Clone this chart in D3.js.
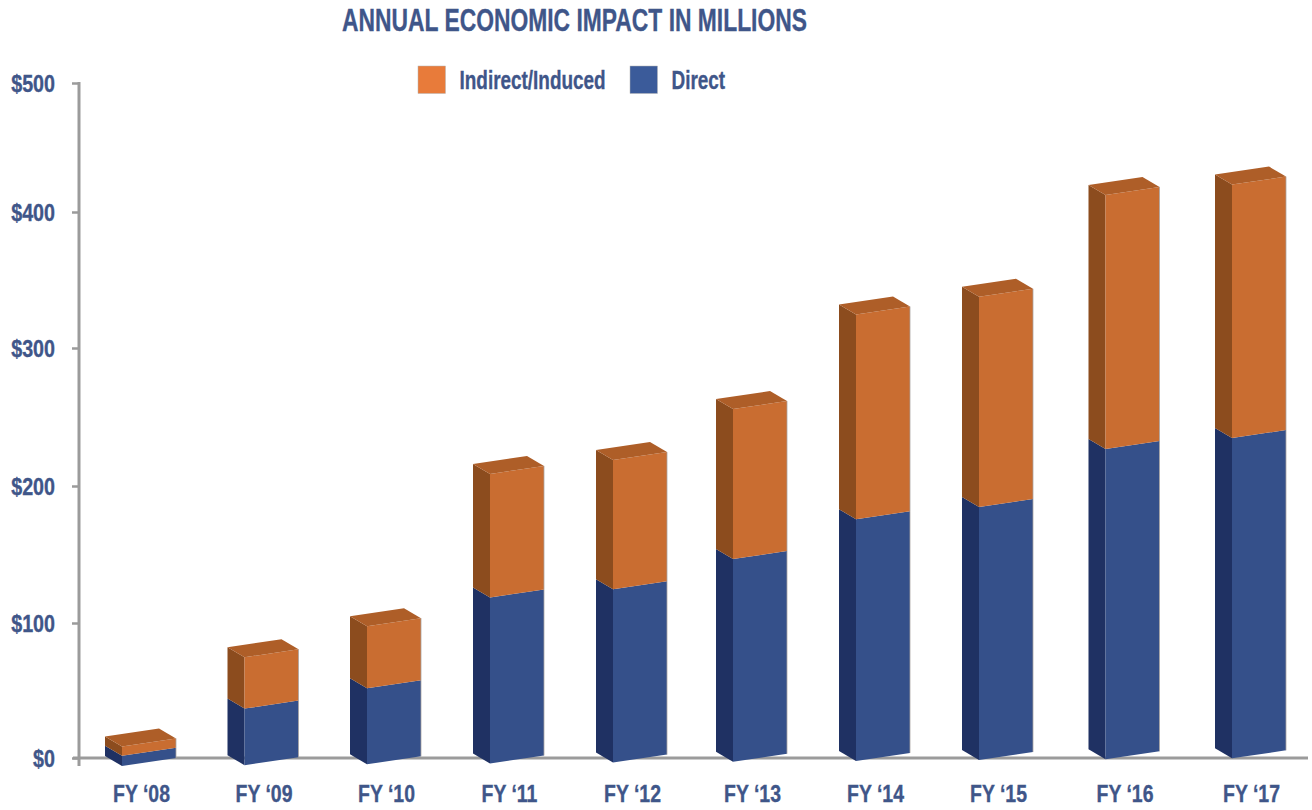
<!DOCTYPE html>
<html>
<head>
<meta charset="utf-8">
<script src="https://cdn.jsdelivr.net/npm/d3@7"></script>
<style>
  html, body { margin: 0; padding: 0; background: #fff; }
  svg { display: block; }
  text { font-family: "Liberation Sans", sans-serif; font-weight: 700; fill: #3f5689; stroke: #3f5689; stroke-width: 0.35px; }
</style>
</head>
<body>
<svg id="chart" width="1312" height="810"></svg>
<script>
// Annual economic impact, millions of dollars
const categories = ["FY \u201808", "FY \u201809", "FY \u201810", "FY \u201811", "FY \u201812", "FY \u201813", "FY \u201814", "FY \u201815", "FY \u201816", "FY \u201817"];
const direct = [9, 44, 59, 126, 132, 154, 183, 192, 234, 242];
const indirectInduced = [7, 38, 46, 90, 94, 109, 149, 153, 187, 187];
const yTicks = [0, 100, 200, 300, 400, 500];
const seriesNames = ["Indirect/Induced", "Direct"];

const svg = d3.select("#chart");

const y = d3.scaleLinear().domain(yTicks).range([758, 623, 486, 348, 212, 83]);
const slot = d3.scaleLinear().domain([0, 2, 4, 5, 7, 9]).range([105, 350, 596, 716, 962, 1215]);
const x = d3.scaleOrdinal(categories, categories.map((c, i) => slot(i) + 36));

// Oblique box projection: depth runs down-right, width runs up-right
const depth = { dx: 17, dy: 10 };
const span = { dx: 54, dy: -8 };

const faces = {
  direct:   { front: "#35508a", side: "#1f3163", top: "#2a4278" },
  indirect: { front: "#c96d31", side: "#8c4c1e", top: "#ae5e28" }
};

const rows = categories.map((c, i) => ({ key: c, i, direct: direct[i], indirect: indirectInduced[i] }));
const stacked = d3.stack().keys(["direct", "indirect"])(rows);

// Condense a text selection horizontally, standing in for a condensed bold face
function condense(selection, ratio) {
  selection.each(function () {
    const natural = this.getComputedTextLength();
    d3.select(this).attr("textLength", natural * ratio).attr("lengthAdjust", "spacingAndGlyphs");
  });
}

// Axes sit behind the boxes
const axisColor = "#9b9b9b";

const yAxis = svg.append("g").attr("transform", "translate(78,0)")
  .call(d3.axisLeft(y).tickValues(yTicks).tickFormat(d => "$" + d).tickSize(6).tickPadding(17));
yAxis.select(".domain").remove();
yAxis.selectAll(".tick line").attr("stroke", axisColor).attr("stroke-width", 2.5);
yAxis.selectAll(".tick text").style("font-size", "24px").attr("dy", "0.34em").call(condense, 0.82);

svg.append("line").attr("x1", 79).attr("x2", 79).attr("y1", y(500) - 1).attr("y2", y(0) + 8)
  .attr("stroke", axisColor).attr("stroke-width", 3);
svg.append("line").attr("x1", 73).attr("x2", 1308).attr("y1", y(0)).attr("y2", y(0))
  .attr("stroke", axisColor).attr("stroke-width", 3);

const xAxis = svg.append("g").attr("transform", "translate(0,793)")
  .call(d3.axisBottom(x).tickSize(0).tickPadding(0));
xAxis.select(".domain").remove();
xAxis.selectAll(".tick text").style("font-size", "24px").attr("dy", "0.36em").attr("y", 0).call(condense, 0.81);

// One box per stacked segment; the base climbs slightly toward the right
const poly = pts => "M" + pts.map(p => p.join(",")).join("L") + "Z";
const baseLift = i => 2 + 0.85 * i;

const boxes = svg.append("g");
stacked.forEach(layer => {
  const colors = faces[layer.key];
  const g = boxes.append("g").attr("class", "series-" + layer.key);
  layer.forEach((d, i) => {
    const x0 = slot(i);
    const yBottom = d[0] === 0 ? y(0) - baseLift(i) : y(d[0]);
    const yTop = y(d[1]);
    const a = [x0 + depth.dx, yTop + depth.dy];
    const b = [x0 + depth.dx + span.dx, yTop + depth.dy + span.dy];
    const c = [x0 + depth.dx + span.dx, yBottom + depth.dy + span.dy];
    const e = [x0 + depth.dx, yBottom + depth.dy];
    g.append("path").attr("d", poly([[x0, yBottom], [x0, yTop], a, e])).attr("fill", colors.side);
    g.append("path").attr("d", poly([a, b, c, e])).attr("fill", colors.front);
    g.append("line").attr("x1", b[0]).attr("x2", c[0]).attr("y1", b[1]).attr("y2", c[1])
      .attr("stroke", "#a9a5a2").attr("stroke-width", 0.8);
    if (layer.key === "indirect") {
      g.append("path").attr("d", poly([[x0, yTop], [x0 + span.dx, yTop + span.dy], b, a])).attr("fill", colors.top);
    }
  });
});

// Title
svg.append("text").attr("x", 574.5).attr("y", 31).attr("text-anchor", "middle")
  .style("font-size", "32px").text("ANNUAL ECONOMIC IMPACT IN MILLIONS").call(condense, 0.714);

// Legend
const legendColors = ["#e87b3a", "#3b5b9a"];
const legendSwatch = d3.scaleOrdinal(seriesNames, [418, 630]);
const legend = svg.append("g").selectAll("g").data(seriesNames).join("g")
  .attr("transform", d => `translate(${legendSwatch(d)},66)`);
legend.append("rect").attr("width", 27.5).attr("height", 27.5)
  .attr("fill", (d, i) => legendColors[i]).attr("stroke", "#b5b5b5").attr("stroke-width", 0.5);
legend.append("text").attr("x", 41.5).attr("y", 23).style("font-size", "25px").text(d => d).call(condense, 0.757);
</script>
</body>
</html>
